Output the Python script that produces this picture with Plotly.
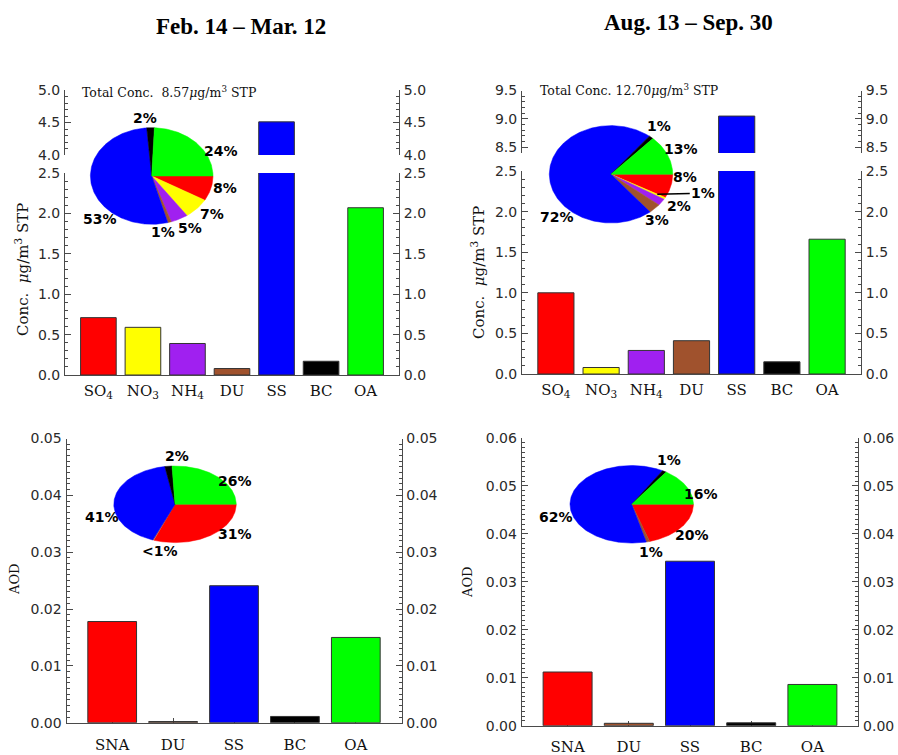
import numpy as np
import plotly.graph_objects as go

W, H = 898, 755

# ---- data -------------------------------------------------------------
periods = ["Feb. 14 – Mar. 12", "Aug. 13 – Sep. 30"]

conc_species = ["SO<sub>4</sub>", "NO<sub>3</sub>", "NH<sub>4</sub>", "DU", "SS", "BC", "OA"]
conc_colors = ["#ff0000", "#ffff00", "#a020f0", "#a0522d", "#0000ff", "#000000", "#00ff00"]

aod_species = ["SNA", "DU", "SS", "BC", "OA"]
aod_colors = ["#ff0000", "#a0522d", "#0000ff", "#000000", "#00ff00"]

conc_feb = [0.71, 0.59, 0.39, 0.08, 4.51, 0.17, 2.07]
conc_aug = [1.00, 0.08, 0.29, 0.41, 9.05, 0.15, 1.66]
total_conc_feb = 8.57
total_conc_aug = 12.70

aod_feb = [0.0178, 0.0002, 0.0241, 0.0011, 0.0150]
aod_aug = [0.0112, 0.0005, 0.0343, 0.0006, 0.0086]

# ---- styling ----------------------------------------------------------
AXCOL = "#4a4a4a"
TICKFONT = dict(family="DejaVu Sans", size=14, color="#2a2a2a")
CATFONT = dict(family="DejaVu Serif", size=15, color="#111111")
PCTFONT = dict(family="DejaVu Sans", size=14, color="#000000", weight="bold")
PIE_SPAN = 1.7  # pie axes reach this many radii so outer labels stay in range

fig = go.Figure()
layout = {}
counters = {"x": 0, "y": 0}


def new_axis(letter):
    counters[letter] += 1
    i = counters[letter]
    ref = letter if i == 1 else f"{letter}{i}"
    key = f"{letter}axis" if i == 1 else f"{letter}axis{i}"
    return ref, key


def px_x(p):
    return p / W


def px_y(p):
    return 1 - p / H


def yaxis_dict(dom, rng, dtick, minor_dtick, side, anchor, fmt, overlaying=None):
    d = dict(
        domain=dom, range=rng, side=side, anchor=anchor,
        showline=True, linecolor=AXCOL, linewidth=1,
        ticks="inside", ticklen=6, tickwidth=1, tickcolor=AXCOL,
        tick0=0, dtick=dtick, tickformat=fmt, tickfont=TICKFONT,
        ticklabelstandoff=1, automargin=False,
        minor=dict(ticks="inside", ticklen=3, tickwidth=1, tickcolor=AXCOL,
                   dtick=minor_dtick, tick0=0, showgrid=False),
        showgrid=False, zeroline=False, fixedrange=True,
    )
    if overlaying:
        d["overlaying"] = overlaying
    return d


def bar_section(values, colors, labels, xdom, ydom, yrng, dtick, minor_dtick,
                fmt, show_x, cat_standoff):
    n = len(values)
    xref, xkey = new_axis("x")
    yref, ykey = new_axis("y")
    yref_r, ykey_r = new_axis("y")
    if show_x:
        layout[xkey] = dict(
            domain=xdom, range=[-0.75, n - 0.25], anchor=yref,
            showline=True, linecolor=AXCOL, linewidth=1,
            ticks="inside", ticklen=5, tickcolor=AXCOL,
            tickvals=list(range(n)), ticktext=labels, tickfont=CATFONT,
            ticklabelstandoff=cat_standoff, automargin=False,
            layer="below traces", showgrid=False, zeroline=False, fixedrange=True,
        )
    else:
        layout[xkey] = dict(domain=xdom, range=[-0.75, n - 0.25], anchor=yref,
                            visible=False, fixedrange=True)
    layout[ykey] = yaxis_dict(ydom, yrng, dtick, minor_dtick, "left", xref, fmt)
    layout[ykey_r] = yaxis_dict(ydom, yrng, dtick, minor_dtick, "right", xref, fmt,
                                overlaying=yref)
    fig.add_trace(go.Bar(
        x=list(range(n)), y=values, width=0.8,
        marker=dict(color=colors, line=dict(color="#333333", width=1)),
        xaxis=xref, yaxis=yref, hoverinfo="skip", showlegend=False,
    ))
    # empty trace so the mirrored right-hand axis is drawn
    fig.add_trace(go.Scatter(x=[None], y=[None], xaxis=xref, yaxis=yref_r,
                             mode="markers", hoverinfo="skip", showlegend=False))


def pie(values, colors, center, rx, ry, label_pos, leader=None):
    xref, xkey = new_axis("x")
    yref, ykey = new_axis("y")
    cx, cy = center
    s = PIE_SPAN
    layout[xkey] = dict(domain=[px_x(cx - s * rx), px_x(cx + s * rx)], range=[-s, s],
                        anchor=yref, visible=False, fixedrange=True)
    layout[ykey] = dict(domain=[px_y(cy + s * ry), px_y(cy - s * ry)], range=[-s, s],
                        anchor=xref, visible=False, fixedrange=True)
    vals = np.asarray(values, dtype=float)
    frac = vals / vals.sum()
    edges = np.concatenate([[0.0], np.cumsum(frac)])
    # slices run clockwise from 3 o'clock in category order
    for i, c in enumerate(colors):
        npts = max(3, int(360 * frac[i]) + 2)
        th = np.linspace(-2 * np.pi * edges[i], -2 * np.pi * edges[i + 1], npts)
        xs = np.concatenate([[0.0], np.cos(th), [0.0]])
        ys = np.concatenate([[0.0], np.sin(th), [0.0]])
        fig.add_trace(go.Scatter(
            x=xs, y=ys, fill="toself", fillcolor=c, mode="lines",
            line=dict(color=c, width=0.5), xaxis=xref, yaxis=yref,
            hoverinfo="skip", showlegend=False,
        ))
    anns = []
    for i, (lx, ly) in enumerate(label_pos):
        pct = 100 * frac[i]
        txt = "<1%" if pct < 0.5 else f"{int(np.floor(pct + 0.5))}%"
        if leader is not None and leader[0] == i:
            tipx, tipy, ax, ay = leader[1:]
            anns.append(dict(x=tipx, y=tipy, xref=xref, yref=yref, text=txt,
                             showarrow=True, arrowhead=0, arrowwidth=1.5,
                             arrowcolor="black", ax=ax, ay=ay, standoff=0,
                             font=PCTFONT))
        else:
            anns.append(dict(x=lx, y=ly, xref=xref, yref=yref, text=txt,
                             showarrow=False, font=PCTFONT,
                             xanchor="center", yanchor="middle"))
    return anns


annotations = []

# ---- concentration panels -------------------------------------------
# left period: broken axis (lower 0-2.5, upper 4.0-5.0)
bar_section(conc_feb, conc_colors, conc_species,
            [px_x(65), px_x(399)], [px_y(375), px_y(173)], [0, 2.5],
            0.5, 0.1, ".1f", True, 2)
bar_section(conc_feb, conc_colors, conc_species,
            [px_x(65), px_x(399)], [px_y(155), px_y(90)], [4.0, 5.0],
            0.5, 0.1, ".1f", False, 2)
# right period: broken axis (lower 0-2.5, upper 8.4-9.5)
bar_section(conc_aug, conc_colors, conc_species,
            [px_x(522), px_x(861)], [px_y(374), px_y(171)], [0, 2.5],
            0.5, 0.1, ".1f", True, 2)
bar_section(conc_aug, conc_colors, conc_species,
            [px_x(522), px_x(861)], [px_y(153), px_y(90.5)], [8.4, 9.5],
            0.5, 0.1, ".1f", False, 2)

# ---- AOD panels ---------------------------------------------------------
bar_section(aod_feb, aod_colors, aod_species,
            [px_x(66.5), px_x(401.5)], [px_y(722.7), px_y(438.5)], [0, 0.05],
            0.01, 0.001, ".2f", True, 8)
bar_section(aod_aug, aod_colors, aod_species,
            [px_x(521.7), px_x(858.3)], [px_y(725.7), px_y(438)], [0, 0.06],
            0.01, 0.001, ".2f", True, 7)

# ---- pies ------------------------------------------------------------------
annotations += pie(conc_feb, conc_colors, (151.7, 176), 61.3, 48.3,
                   [(1.20, -0.24), (0.99, -0.79), (0.62, -1.08), (0.19, -1.15),
                    (-0.84, -0.88), (-0.11, 1.21), (1.13, 0.52)])
annotations += pie(conc_aug, conc_colors, (611, 174.3), 61.7, 48.7,
                   [(1.20, -0.05), (1.49, -0.39), (1.11, -0.65), (0.74, -0.94),
                    (-0.87, -0.87), (0.77, 0.99), (1.13, 0.51)],
                   leader=(1, 0.75, -0.41, 46, -1))
annotations += pie(aod_feb, aod_colors, (175, 504.3), 61.2, 38.3,
                   [(0.98, -0.78), (-0.25, -1.21), (-1.20, -0.34), (0.04, 1.26),
                    (0.98, 0.62)])
annotations += pie(aod_aug, aod_colors, (631.7, 504.3), 61.7, 38.8,
                   [(0.97, -0.79), (0.32, -1.22), (-1.22, -0.34), (0.61, 1.14),
                    (1.13, 0.27)])

# ---- text ------------------------------------------------------------------
TITLEFONT = dict(family="Liberation Serif", size=23, color="#000000", weight="bold")
annotations.append(dict(x=px_x(241), y=px_y(26), xref="paper", yref="paper",
                        text=periods[0], showarrow=False, font=TITLEFONT,
                        xanchor="center", yanchor="middle"))
annotations.append(dict(x=px_x(688), y=px_y(23), xref="paper", yref="paper",
                        text=periods[1], showarrow=False, font=TITLEFONT,
                        xanchor="center", yanchor="middle"))

TOTFONT = dict(family="DejaVu Serif", size=12.5, color="#111111")
for x0, y0, tot in [(80, 92, total_conc_feb), (537.7, 90.5, total_conc_aug)]:
    num = f"{tot:5.2f}".replace(" ", "\u00a0")
    annotations.append(dict(
        x=px_x(x0), y=px_y(y0), xref="paper", yref="paper",
        text=f"Total Conc.\u00a0{num}<i>μ</i>g/m<sup>3</sup> STP",
        showarrow=False, font=TOTFONT, xanchor="left", yanchor="middle"))

YTFONT = dict(family="DejaVu Serif", size=15, color="#111111")
for x0, y0 in [(22, 270), (478, 273)]:
    annotations.append(dict(
        x=px_x(x0), y=px_y(y0), xref="paper", yref="paper",
        text="Conc.\u00a0\u00a0<i>μ</i>g/m<sup>3</sup> STP", textangle=-90,
        showarrow=False, font=YTFONT, xanchor="center", yanchor="middle"))

AODFONT = dict(family="DejaVu Serif", size=13, color="#111111")
for x0, y0 in [(14, 580), (467, 583)]:
    annotations.append(dict(
        x=px_x(x0), y=px_y(y0), xref="paper", yref="paper",
        text="AOD", textangle=-90, showarrow=False, font=AODFONT,
        xanchor="center", yanchor="middle"))

fig.update_layout(
    width=W, height=H,
    margin=dict(l=0, r=0, t=0, b=0, pad=0, autoexpand=False),
    paper_bgcolor="white", plot_bgcolor="rgba(0,0,0,0)",
    showlegend=False, bargap=0.2,
    annotations=annotations,
    **layout,
)

fig.write_html("out.html")
